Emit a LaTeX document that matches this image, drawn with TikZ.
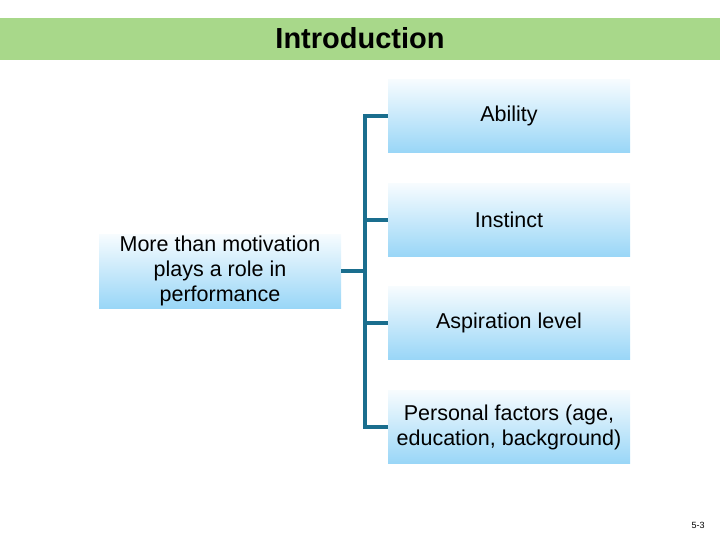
\documentclass[tikz,border=0pt]{standalone}
\usepackage{fontspec}
\setmainfont{Liberation Sans}
\definecolor{titlegreen}{HTML}{A8D88A}
\definecolor{boxblue}{HTML}{99D6F7}
\definecolor{linkteal}{HTML}{1A6E8E}
\tikzset{
  factorbox/.style={minimum width=242pt, minimum height=73pt, top color=boxblue!8,
    bottom color=boxblue, align=center, font=\fontsize{21.5}{25}\selectfont, inner sep=1pt},
  link/.style={draw=linkteal, line width=3.2pt}
}
\begin{document}
\begin{tikzpicture}[x=1pt,y=-1pt]
\useasboundingbox (0,0) rectangle (720,540);
% title bar
\fill[titlegreen] (0,18) rectangle (720,60);
\node (title) at (360,38) {\fontsize{29}{34}\selectfont\bfseries Introduction};

% boxes
\node[factorbox, minimum height=74pt] (motive) at (220,271) {More than motivation\\plays a role in\\performance};
\node[factorbox] (ability) at (509,116) {Ability};
\node[factorbox] (instinct) at (509,220) {Instinct};
\node[factorbox] (aspire) at (509,323) {Aspiration level};
\node[factorbox] (personal) at (509,427) {Personal factors (age,\\education, background)};

% connectors
\coordinate (spine) at (365,271);
\draw[link] (motive.east) -- (spine);
\draw[link] (ability.west) -| (365,427) -- (personal.west);
\draw[link] (instinct.west) -- (instinct.west -| spine);
\draw[link] (aspire.west) -- (aspire.west -| spine);

\node (page) at (698,525) {\fontsize{9}{10}\selectfont 5-3};
\end{tikzpicture}
\end{document}
